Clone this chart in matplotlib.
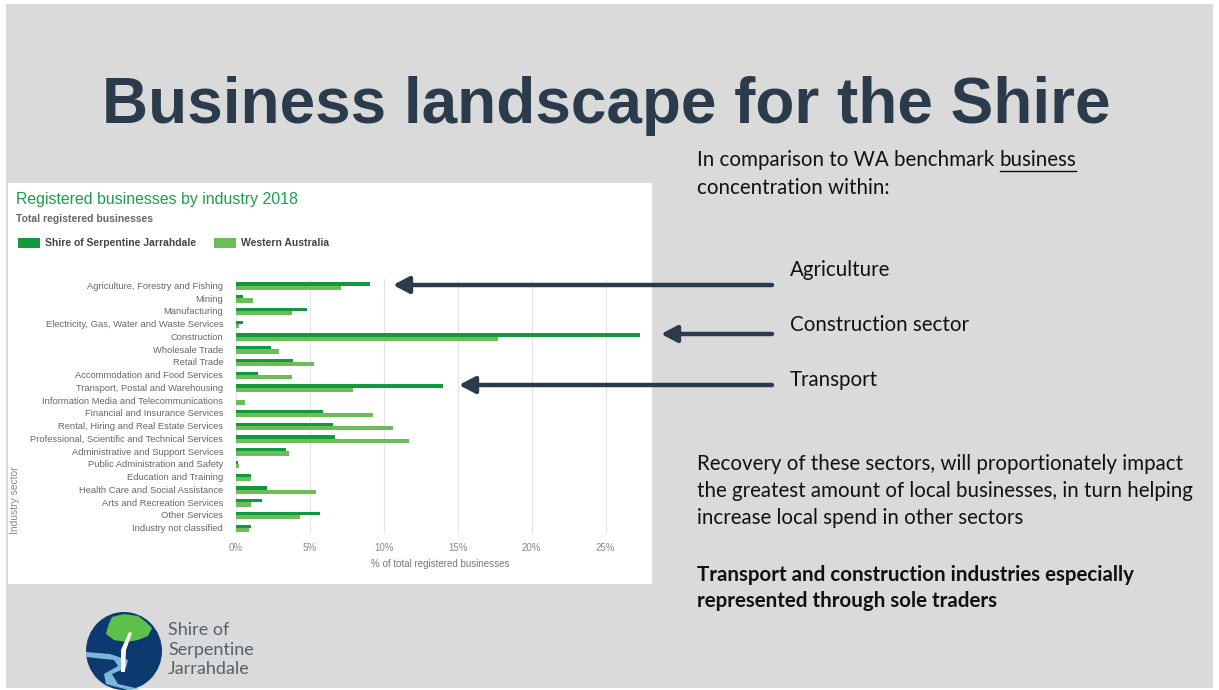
import matplotlib
matplotlib.use("Agg")
import matplotlib.pyplot as plt
from matplotlib.patches import Rectangle, Ellipse, Polygon, FancyArrowPatch
import numpy as np

# ---------------- data ----------------
industries = [
    "Agriculture, Forestry and Fishing", "Mining", "Manufacturing",
    "Electricity, Gas, Water and Waste Services", "Construction",
    "Wholesale Trade", "Retail Trade", "Accommodation and Food Services",
    "Transport, Postal and Warehousing", "Information Media and Telecommunications",
    "Financial and Insurance Services", "Rental, Hiring and Real Estate Services",
    "Professional, Scientific and Technical Services",
    "Administrative and Support Services", "Public Administration and Safety",
    "Education and Training", "Health Care and Social Assistance",
    "Arts and Recreation Services", "Other Services", "Industry not classified",
]
shire = [9.1, 0.5, 4.8, 0.5, 27.3, 2.4, 3.9, 1.5, 14.0, 0.05,
         5.9, 6.55, 6.7, 3.4, 0.15, 1.05, 2.1, 1.8, 5.7, 1.05]
wa = [7.1, 1.2, 3.8, 0.25, 17.7, 2.9, 5.3, 3.8, 7.9, 0.6,
      9.3, 10.6, 11.7, 3.6, 0.2, 1.05, 5.4, 1.0, 4.35, 0.9]
xticks = [0, 5, 10, 15, 20, 25]
xtick_labels = ["0%", "5%", "10%", "15%", "20%", "25%"]
series_names = ["Shire of Serpentine Jarrahdale", "Western Australia"]

W, H = 1219, 690
DARK = "#11993e"
LIGHT = "#6cbd58"
SLATE = "#2b3b4c"

fig = plt.figure(figsize=(W / 100, H / 100), dpi=100)
fig.patch.set_facecolor("white")

def fx(x):
    return x / W

def fy(y):
    return 1 - y / H

# slide background
fig.patches.append(Rectangle((fx(6), fy(688)), fx(1213) - fx(6), fy(4) - fy(688),
                             transform=fig.transFigure, facecolor="#dadada",
                             edgecolor="none", zorder=-3))
# white chart panel
fig.patches.append(Rectangle((fx(8), fy(584)), fx(652) - fx(8), fy(183) - fy(584),
                             transform=fig.transFigure, facecolor="white",
                             edgecolor="none", zorder=-2))

# Title
fig.text(fx(606), fy(106), "Business landscape for the Shire", ha="center", va="center",
         fontsize=46, fontweight="bold", color=SLATE, family="Liberation Sans")

# ---------------- chart ----------------
ax_l, ax_r, ax_t, ax_b = 235.7, 645.7, 279, 534
ax = fig.add_axes([fx(ax_l), fy(ax_b), fx(ax_r) - fx(ax_l), fy(ax_t) - fy(ax_b)])
ax.set_zorder(2)
ax.set_facecolor("none")
y = np.arange(len(industries))
ax.barh(y - 0.11, shire, height=0.25, color=DARK, zorder=3)
ax.barh(y + 0.18, wa, height=0.34, color=LIGHT, zorder=2)
ax.set_xlim(0, 27.7)
ax.set_ylim(len(industries) - 0.5, -0.5)
ax.set_xticks(xticks)
ax.set_xticklabels(xtick_labels, fontsize=7.0, color="#8a8a8a", family="Liberation Sans")
ax.set_yticks(y)
ax.set_yticklabels(industries, fontsize=6.75, color="#666666", family="Liberation Sans")
ax.tick_params(axis="both", length=0)
ax.tick_params(axis="x", pad=6.5)
ax.tick_params(axis="y", pad=9)
ax.grid(axis="x", color="#e4e4e4", linewidth=0.8, zorder=0)
ax.set_axisbelow(True)
for s in ax.spines.values():
    s.set_visible(False)
ax.set_xlabel("% of total registered businesses", fontsize=7.0, color="#777777",
              family="Liberation Sans", labelpad=4)

fig.text(fx(15), fy(500), "Industry sector", rotation=90, ha="center", va="center",
         fontsize=7.4, color="#8a8a8a", family="Liberation Sans")

fig.text(fx(16), fy(200), "Registered businesses by industry 2018", ha="left", va="center",
         fontsize=11.4, color="#1a9e48", family="Liberation Sans")
fig.text(fx(16), fy(219), "Total registered businesses", ha="left", va="center",
         fontsize=7.5, color="#666666", fontweight="bold", family="Liberation Sans")
# legend
for (x0, col, name) in [(18, DARK, series_names[0]), (214, LIGHT, series_names[1])]:
    fig.patches.append(Rectangle((fx(x0), fy(248)), fx(22), fy(238) - fy(248),
                                 transform=fig.transFigure, facecolor=col,
                                 edgecolor="none", zorder=3))
    fig.text(fx(x0 + 27), fy(243.5), name, ha="left", va="center", fontsize=7.5,
             color="#444444", fontweight="bold", family="Liberation Sans")

# ---------------- right-hand text ----------------
TF = "Lato"
TS = 14.8
TC = "#111111"
t1 = fig.text(fx(697), fy(160), "In comparison to WA benchmark ", ha="left", va="center",
              fontsize=TS, color=TC, family=TF)
fig.canvas.draw()
r = fig.canvas.get_renderer()
bb = t1.get_window_extent(r)
t2 = fig.text(bb.x1 / W, fy(160), "business", ha="left", va="center",
              fontsize=TS, color=TC, family=TF)
bb2 = t2.get_window_extent(r)
fig.add_artist(plt.Line2D([bb2.x0 / W, bb2.x1 / W], [fy(171), fy(171)],
                          transform=fig.transFigure, color=TC, linewidth=1.0))
fig.text(fx(697), fy(188), "concentration within:", ha="left", va="center",
         fontsize=TS, color=TC, family=TF)

for label, ly in [("Agriculture", 270), ("Construction sector", 325), ("Transport", 380)]:
    fig.text(fx(790), fy(ly), label, ha="left", va="center", fontsize=TS, color=TC, family=TF)

for (x_end, ay) in [(393, 285), (661, 334), (459, 385)]:
    fig.add_artist(FancyArrowPatch(
        (fx(772), fy(ay)), (fx(x_end), fy(ay)), transform=fig.transFigure,
        arrowstyle="-|>,head_length=0.95,head_width=0.5", mutation_scale=10,
        color=SLATE, linewidth=3.2, shrinkA=0, shrinkB=0, zorder=5))

for txt, ly in [("Recovery of these sectors, will proportionately impact", 464),
                ("the greatest amount of local businesses, in turn helping", 491),
                ("increase local spend in other sectors", 518)]:
    fig.text(fx(697), fy(ly), txt, ha="left", va="center", fontsize=TS, color=TC, family=TF)
for txt, ly in [("Transport and construction industries especially", 575),
                ("represented through sole traders", 601)]:
    fig.text(fx(697), fy(ly), txt, ha="left", va="center", fontsize=TS, color=TC,
             family=TF, fontweight="bold")

# ---------------- logo ----------------
lax = fig.add_axes([fx(84), fy(690), fx(164) - fx(84), fy(611) - fy(690)])
lax.set_zorder(2)
lax.set_xlim(84, 164)
lax.set_ylim(690, 611)
lax.axis("off")
lax.add_patch(Ellipse((124, 651), 76, 78, facecolor="#0c3a6e", edgecolor="none"))
river = [(86, 652), (110, 654), (128, 660), (126, 668), (112, 674), (118, 684), (140, 689),
         (128, 690), (106, 684), (104, 674), (118, 666), (114, 660), (86, 657)]
lax.add_patch(Polygon(river, closed=True, facecolor="#7cb7da", edgecolor="none"))
tree = [(108, 626), (112, 617), (124, 614), (138, 616), (146, 622), (152, 628),
        (148, 636), (138, 640), (126, 642), (114, 640), (106, 634)]
lax.add_patch(Polygon(tree, closed=True, facecolor="#5cc04a", edgecolor="none"))
trunk = [(129, 632), (132, 633), (126, 650), (125, 672), (121, 672), (121, 650)]
lax.add_patch(Polygon(trunk, closed=True, facecolor="white", edgecolor="none"))

for txt, ly in [("Shire of", 630), ("Serpentine", 650), ("Jarrahdale", 669)]:
    fig.text(fx(168), fy(ly), txt, ha="left", va="center", fontsize=13,
             color="#55606b", family=TF)

fig.savefig("out.png", dpi=100, facecolor=fig.get_facecolor())
